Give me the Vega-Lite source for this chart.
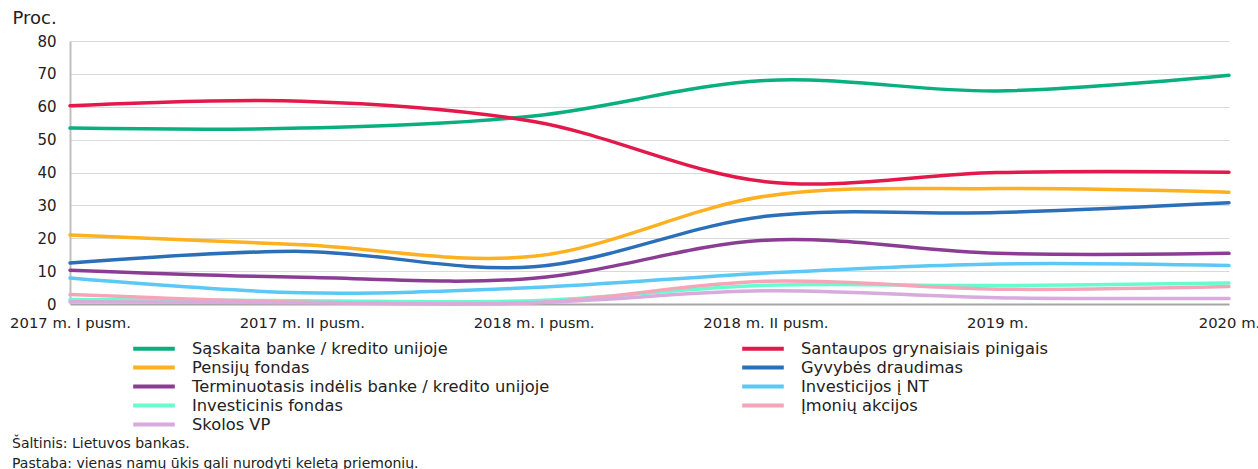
{
  "$schema": "https://vega.github.io/schema/vega-lite/v6.json",
  "width": 1159,
  "height": 263,
  "autosize": {"type": "none"},
  "padding": {"left": 70, "top": 41, "right": 29, "bottom": 165},
  "background": "white",
  "config": {
    "view": {"stroke": null},
    "font": "DejaVu Sans",
    "text": {"font": "DejaVu Sans"}
  },
  "title": {
    "text": ["Šaltinis: Lietuvos bankas.", "Pastaba: vienas namų ūkis gali nurodyti keletą priemonių."],
    "orient": "bottom",
    "anchor": "start",
    "frame": "group",
    "offset": 3,
    "dx": -58,
    "fontSize": 14,
    "fontWeight": "normal",
    "color": "#222222",
    "lineHeight": 20,
    "font": "DejaVu Sans"
  },
  "data": {
    "values": [
      {"p": "2017 m. I pusm.", "s": "Sąskaita banke / kredito unijoje", "v": 53.5},
      {"p": "2017 m. II pusm.", "s": "Sąskaita banke / kredito unijoje", "v": 53.5},
      {"p": "2018 m. I pusm.", "s": "Sąskaita banke / kredito unijoje", "v": 57.2},
      {"p": "2018 m. II pusm.", "s": "Sąskaita banke / kredito unijoje", "v": 68.0},
      {"p": "2019 m.", "s": "Sąskaita banke / kredito unijoje", "v": 64.8},
      {"p": "2020 m.", "s": "Sąskaita banke / kredito unijoje", "v": 69.6},
      {"p": "2017 m. I pusm.", "s": "Santaupos grynaisiais pinigais", "v": 60.3},
      {"p": "2017 m. II pusm.", "s": "Santaupos grynaisiais pinigais", "v": 61.7},
      {"p": "2018 m. I pusm.", "s": "Santaupos grynaisiais pinigais", "v": 55.5},
      {"p": "2018 m. II pusm.", "s": "Santaupos grynaisiais pinigais", "v": 37.2},
      {"p": "2019 m.", "s": "Santaupos grynaisiais pinigais", "v": 40.0},
      {"p": "2020 m.", "s": "Santaupos grynaisiais pinigais", "v": 40.1},
      {"p": "2017 m. I pusm.", "s": "Pensijų fondas", "v": 21.0},
      {"p": "2017 m. II pusm.", "s": "Pensijų fondas", "v": 18.0},
      {"p": "2018 m. I pusm.", "s": "Pensijų fondas", "v": 14.5},
      {"p": "2018 m. II pusm.", "s": "Pensijų fondas", "v": 32.8},
      {"p": "2019 m.", "s": "Pensijų fondas", "v": 35.1},
      {"p": "2020 m.", "s": "Pensijų fondas", "v": 34.0},
      {"p": "2017 m. I pusm.", "s": "Gyvybės draudimas", "v": 12.5},
      {"p": "2017 m. II pusm.", "s": "Gyvybės draudimas", "v": 16.0},
      {"p": "2018 m. I pusm.", "s": "Gyvybės draudimas", "v": 11.3},
      {"p": "2018 m. II pusm.", "s": "Gyvybės draudimas", "v": 26.7},
      {"p": "2019 m.", "s": "Gyvybės draudimas", "v": 27.8},
      {"p": "2020 m.", "s": "Gyvybės draudimas", "v": 30.8},
      {"p": "2017 m. I pusm.", "s": "Terminuotasis indėlis banke / kredito unijoje", "v": 10.3},
      {"p": "2017 m. II pusm.", "s": "Terminuotasis indėlis banke / kredito unijoje", "v": 8.1},
      {"p": "2018 m. I pusm.", "s": "Terminuotasis indėlis banke / kredito unijoje", "v": 7.8},
      {"p": "2018 m. II pusm.", "s": "Terminuotasis indėlis banke / kredito unijoje", "v": 19.4},
      {"p": "2019 m.", "s": "Terminuotasis indėlis banke / kredito unijoje", "v": 15.4},
      {"p": "2020 m.", "s": "Terminuotasis indėlis banke / kredito unijoje", "v": 15.4},
      {"p": "2017 m. I pusm.", "s": "Investicijos į NT", "v": 7.9},
      {"p": "2017 m. II pusm.", "s": "Investicijos į NT", "v": 3.4},
      {"p": "2018 m. I pusm.", "s": "Investicijos į NT", "v": 5.0},
      {"p": "2018 m. II pusm.", "s": "Investicijos į NT", "v": 9.4},
      {"p": "2019 m.", "s": "Investicijos į NT", "v": 12.2},
      {"p": "2020 m.", "s": "Investicijos į NT", "v": 11.7},
      {"p": "2017 m. I pusm.", "s": "Investicinis fondas", "v": 1.4},
      {"p": "2017 m. II pusm.", "s": "Investicinis fondas", "v": 1.0},
      {"p": "2018 m. I pusm.", "s": "Investicinis fondas", "v": 1.0},
      {"p": "2018 m. II pusm.", "s": "Investicinis fondas", "v": 5.7},
      {"p": "2019 m.", "s": "Investicinis fondas", "v": 5.6},
      {"p": "2020 m.", "s": "Investicinis fondas", "v": 6.4},
      {"p": "2017 m. I pusm.", "s": "Įmonių akcijos", "v": 2.9},
      {"p": "2017 m. II pusm.", "s": "Įmonių akcijos", "v": 0.6},
      {"p": "2018 m. I pusm.", "s": "Įmonių akcijos", "v": 0.4},
      {"p": "2018 m. II pusm.", "s": "Įmonių akcijos", "v": 6.9},
      {"p": "2019 m.", "s": "Įmonių akcijos", "v": 4.5},
      {"p": "2020 m.", "s": "Įmonių akcijos", "v": 5.3},
      {"p": "2017 m. I pusm.", "s": "Skolos VP", "v": 0.7},
      {"p": "2017 m. II pusm.", "s": "Skolos VP", "v": 0.4},
      {"p": "2018 m. I pusm.", "s": "Skolos VP", "v": 0.4},
      {"p": "2018 m. II pusm.", "s": "Skolos VP", "v": 4.0},
      {"p": "2019 m.", "s": "Skolos VP", "v": 1.9},
      {"p": "2020 m.", "s": "Skolos VP", "v": 1.7}
    ]
  },
  "mark": {"type": "line", "interpolate": "catmull-rom", "strokeWidth": 3.5, "strokeCap": "round"},
  "encoding": {
    "x": {
      "field": "p",
      "type": "ordinal",
      "sort": null,
      "scale": {"type": "point", "padding": 0},
      "axis": {
        "title": null,
        "labelAngle": 0,
        "labelFontSize": 14.8,
        "labelColor": "#222222",
        "labelPadding": 11,
        "ticks": false,
        "domainColor": "#a6a6a6",
        "domainWidth": 2,
        "grid": false
      }
    },
    "y": {
      "field": "v",
      "type": "quantitative",
      "scale": {"domain": [0, 80], "nice": false},
      "axis": {
        "values": [0, 10, 20, 30, 40, 50, 60, 70, 80],
        "title": "Proc.",
        "titleAngle": 0,
        "titleAlign": "left",
        "titleBaseline": "middle",
        "titleX": -58,
        "titleY": -23,
        "titleFontSize": 18,
        "titleFontWeight": "normal",
        "titleColor": "#222222",
        "labelFontSize": 15,
        "labelColor": "#222222",
        "labelPadding": 14,
        "ticks": false,
        "domainColor": "#bfbfbf",
        "domainWidth": 2,
        "gridColor": "#d9d9d9",
        "gridWidth": 1.2
      }
    },
    "color": {
      "field": "s",
      "type": "nominal",
      "sort": null,
      "scale": {
        "domain": [
          "Sąskaita banke / kredito unijoje",
          "Santaupos grynaisiais pinigais",
          "Pensijų fondas",
          "Gyvybės draudimas",
          "Terminuotasis indėlis banke / kredito unijoje",
          "Investicijos į NT",
          "Investicinis fondas",
          "Įmonių akcijos",
          "Skolos VP"
        ],
        "range": ["#0aaf7f", "#e3194b", "#fdb020", "#2a6fb8", "#8a3d93", "#5cc8f5", "#66fcd0", "#f4a6b8", "#d9aadd"]
      },
      "legend": {
        "title": null,
        "orient": "none",
        "legendX": 74,
        "legendY": 297.5,
        "columns": 2,
        "direction": "horizontal",
        "symbolType": "M-2.6,0H2.6",
        "symbolSize": 256,
        "symbolStrokeWidth": 4,
        "labelFontSize": 16.3,
        "labelColor": "#222222",
        "labelOffset": 28,
        "rowPadding": -0.5,
        "columnPadding": 184,
        "labelLimit": 500,
        "gridAlign": "all"
      }
    }
  }
}
